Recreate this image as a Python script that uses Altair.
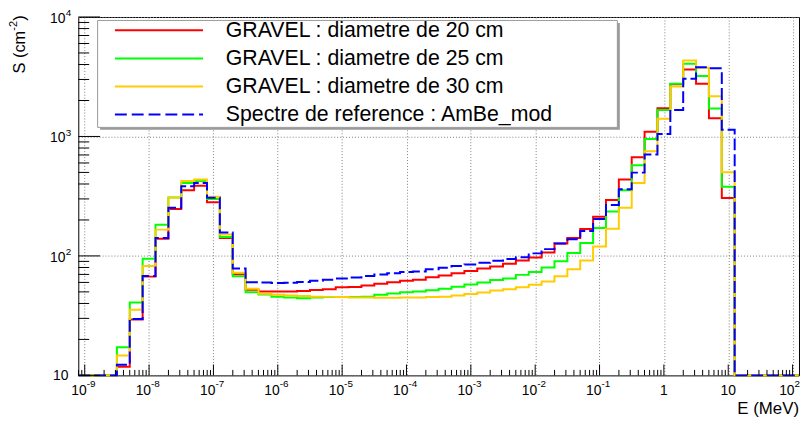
import altair as alt
import numpy as np
import pandas as pd

# ---------------- data ----------------
series_names = [
    "GRAVEL : diametre de 20 cm",
    "GRAVEL : diametre de 25 cm",
    "GRAVEL : diametre de 30 cm",
    "Spectre de reference : AmBe_mod",
]
series_colors = ["#ff0000", "#00ff00", "#ffcc00", "#0000ff"]

# log10(E/MeV) of the axis range and of the binning (0.2 decade bins)
axis_exp_range = [-9.1, 2.1]
first_edge_exp = -8.5
bin_width_exp = 0.2

gravel_20 = [11.8, 29.3, 67.1, 139, 247, 355, 386, 281, 141, 70.1,
             52.2, 50.4, 50.4, 50.4, 50.9, 51.9, 52.6, 54.7, 54.9, 56.6,
             58.5, 60.2, 61.9, 63.1, 66.2, 68.5, 71.7, 74.7, 78.3, 81.4,
             86.0, 91.6, 97.0, 107, 127, 141, 168, 213, 294, 436,
             671, 1096, 1723, 2741, 3627, 2756, 1418, 305]
gravel_25 = [17.2, 40.8, 94.6, 182, 309, 408, 424, 299, 144, 67.5,
             49.7, 47.6, 45.6, 44.9, 44.3, 44.9, 45.2, 45.2, 45.4, 45.5,
             47.4, 48.5, 49.7, 50.4, 51.7, 53.2, 55.2, 57.6, 59.8, 62.9,
             64.6, 69.4, 73.2, 80.1, 90.4, 106, 128, 171, 235, 355,
             573, 954, 1668, 2756, 4069, 3205, 1717, 379]
gravel_30 = [14.7, 35.5, 82.2, 166, 307, 424, 436, 313, 151, 72.4,
             53.2, 48.3, 47.4, 46.7, 46.1, 45.6, 45.4, 45.2, 44.9, 44.9,
             44.7, 44.7, 44.8, 44.9, 45.2, 45.6, 46.7, 47.9, 49.4, 51.4,
             52.6, 54.7, 57.4, 61.0, 67.5, 77.2, 91.6, 120, 169, 253,
             408, 752, 1405, 2613, 4318, 3754, 2167, 501]
reference_ambe = [12.3, 29.7, 67.9, 141, 253, 383, 408, 307, 157, 78.6,
                  60.2, 59.8, 59.4, 59.6, 60.5, 61.9, 63.1, 64.6, 66.0, 67.9,
                  69.8, 71.7, 73.5, 74.2, 77.2, 79.7, 82.5, 84.9, 87.7, 91.1,
                  94.3, 97.5, 105, 114, 127, 138, 162, 204, 267, 362,
                  498, 707, 1048, 1668, 3043, 3790, 3718, 1139]
all_series = [gravel_20, gravel_25, gravel_30, reference_ambe]

# tick labels: base and exponent (ROOT style "10^-9")
x_tick_values = [1e-9, 1e-8, 1e-7, 1e-6, 1e-5, 1e-4, 1e-3, 1e-2, 1e-1, 1.0, 10.0, 100.0]
x_tick_base = ["10", "10", "10", "10", "10", "10", "10", "10", "10", "1", "10", "10"]
x_tick_exp = ["-9", "-8", "-7", "-6", "-5", "-4", "-3", "-2", "-1", "", "", "2"]
y_tick_values = [10.0, 100.0, 1000.0, 10000.0]
y_tick_base = ["10", "10", "10", "10"]
y_tick_exp = ["", "2", "3", "4"]
x_title = "E (MeV)"
y_title_parts = ["S (cm", "-2", ")"]   # S (cm^-2)

# ---------------- build tables ----------------
n_bins = len(gravel_20)
edges = 10 ** (first_edge_exp + bin_width_exp * np.arange(n_bins + 1))
x_lo, x_hi = 10 ** axis_exp_range[0], 10 ** axis_exp_range[1]

rows = []
for name, vals in zip(series_names, all_series):
    xs = [x_lo] + list(edges) + [x_hi]
    ys = [0.0] + list(vals) + [0.0, 0.0]
    for j, (xv, yv) in enumerate(zip(xs, ys)):
        rows.append({"series": name, "E": float(xv), "S": float(yv), "order": j})
df = pd.DataFrame(rows)

x_minor = [m * 10.0 ** e for e in range(-10, 3) for m in range(2, 10)
           if x_lo <= m * 10.0 ** e <= x_hi]
y_minor = [m * 10.0 ** e for e in range(1, 4) for m in range(2, 10)]

xlab = pd.DataFrame({"E": x_tick_values, "base": x_tick_base, "exp": x_tick_exp})
ylab = pd.DataFrame({"S": y_tick_values, "base": y_tick_base, "exp": y_tick_exp})

W, H = 728, 362
FONT = "Liberation Sans"

xscale = alt.Scale(type="log", domain=[x_lo, x_hi], nice=False)
yscale = alt.Scale(type="log", domain=[10, 10000], nice=False)

xaxis = alt.Axis(values=x_tick_values, grid=True, gridDash=[1, 2], gridColor="#808080",
                 gridWidth=1, ticks=False, domain=False, labels=False, title=None)
yaxis = alt.Axis(values=y_tick_values, grid=True, gridDash=[1, 2], gridColor="#808080",
                 gridWidth=1, ticks=False, domain=False, labels=False, title=None)

X = lambda f="E:Q": alt.X(f, scale=xscale, axis=xaxis)
Y = lambda f="S:Q": alt.Y(f, scale=yscale, axis=yaxis)

layers = []
for i, (name, color) in enumerate(zip(series_names, series_colors)):
    dash = [12, 4] if i == 3 else [1, 0]
    layers.append(
        alt.Chart(df)
        .transform_filter(alt.datum.series == name)
        .transform_calculate(Splot="max(datum.S, 10)")
        .mark_line(interpolate="step-after", strokeWidth=2, color=color,
                   strokeDash=dash, clip=False)
        .encode(x=X(), y=Y("Splot:Q"), order="order:Q")
    )

# inward ticks (ROOT style)
rule = dict(color="black", strokeWidth=1)
xt_major = alt.Chart(xlab).mark_rule(**rule).encode(x=X(), y=alt.value(H), y2=alt.value(H - 11))
xt_minor = alt.Chart(pd.DataFrame({"E": x_minor})).mark_rule(**rule).encode(
    x=X(), y=alt.value(H), y2=alt.value(H - 5.5))
yt_major = alt.Chart(ylab).mark_rule(**rule).encode(y=Y(), x=alt.value(0), x2=alt.value(22))
yt_minor = alt.Chart(pd.DataFrame({"S": y_minor})).mark_rule(**rule).encode(
    y=Y(), x=alt.value(0), x2=alt.value(11))

# tick labels
txt = dict(font=FONT, color="black")
xl_base_exp = alt.Chart(xlab).transform_filter("datum.exp != ''").mark_text(
    align="right", baseline="middle", fontSize=14, dx=2, **txt).encode(
    x=X(), y=alt.value(H + 16), text="base:N")
xl_exp = alt.Chart(xlab).transform_filter("datum.exp != ''").mark_text(
    align="left", baseline="middle", fontSize=10, dx=2, **txt).encode(
    x=X(), y=alt.value(H + 9), text="exp:N")
xl_plain = alt.Chart(xlab).transform_filter("datum.exp == ''").mark_text(
    align="center", baseline="middle", fontSize=14, **txt).encode(
    x=X(), y=alt.value(H + 16), text="base:N")
yl_base_exp = alt.Chart(ylab).transform_filter("datum.exp != ''").mark_text(
    align="right", baseline="middle", fontSize=14, dy=2, **txt).encode(
    y=Y(), x=alt.value(-13), text="base:N")
yl_exp = alt.Chart(ylab).transform_filter("datum.exp != ''").mark_text(
    align="right", baseline="middle", fontSize=10, dy=-3.5, **txt).encode(
    y=Y(), x=alt.value(-7), text="exp:N")
yl_plain = alt.Chart(ylab).transform_filter("datum.exp == ''").mark_text(
    align="right", baseline="middle", fontSize=14, dy=1, **txt).encode(
    y=Y(), x=alt.value(-10), text="base:N")

one = pd.DataFrame({"a": [0]})
x_title_mark = alt.Chart(one).mark_text(text=x_title, align="right", baseline="middle",
                                        fontSize=17, **txt).encode(
    x=alt.value(W), y=alt.value(H + 34))
# y title, rotated, composed of base text + superscript
yt0 = alt.Chart(one).mark_text(text=y_title_parts[0], align="left", baseline="middle",
                               angle=270, fontSize=16.5, **txt).encode(
    x=alt.value(-59), y=alt.value(57))
yt1 = alt.Chart(one).mark_text(text=y_title_parts[1], align="left", baseline="middle",
                               angle=270, fontSize=11, **txt).encode(
    x=alt.value(-65), y=alt.value(57 - 43.2))
yt2 = alt.Chart(one).mark_text(text=y_title_parts[2], align="left", baseline="middle",
                               angle=270, fontSize=16.5, **txt).encode(
    x=alt.value(-59), y=alt.value(57 - 43.2 - 9.9))

# legend box (ROOT TLegend with shadow)
leg_shadow = alt.Chart(one).mark_rect(color="#9a9a9a").encode(
    x=alt.value(22), x2=alt.value(547), y=alt.value(6), y2=alt.value(114))
leg_box = alt.Chart(one).mark_rect(fill="white", stroke="#9a9a9a", strokeWidth=1).encode(
    x=alt.value(19.5), x2=alt.value(544.5), y=alt.value(3.5), y2=alt.value(111.5))
legend_layers = [leg_shadow, leg_box]
for i, (name, color) in enumerate(zip(series_names, series_colors)):
    yy = 13.5 + 28.35 * i
    dash = [12, 5] if i == 3 else [1, 0]
    legend_layers.append(
        alt.Chart(one).mark_rule(color=color, strokeWidth=2, strokeDash=dash).encode(
            x=alt.value(37), x2=alt.value(126), y=alt.value(yy)))
    legend_layers.append(
        alt.Chart(one).mark_text(text=name, fontSize=21.5, align="left",
                                 baseline="middle", **txt).encode(
            x=alt.value(149), y=alt.value(yy + 1)))

chart = alt.layer(
    *layers, xt_major, xt_minor, yt_major, yt_minor,
    xl_base_exp, xl_exp, xl_plain, yl_base_exp, yl_exp, yl_plain,
    x_title_mark, yt0, yt1, yt2, *legend_layers,
).properties(
    width=W, height=H,
    autosize=alt.AutoSizeParams(type="none"),
    padding={"left": 71, "top": 7, "right": 2, "bottom": 44},
    background="white",
).configure_view(stroke="black", strokeWidth=1)

chart.save("out.html", embed_options={"renderer": "svg", "actions": False})
